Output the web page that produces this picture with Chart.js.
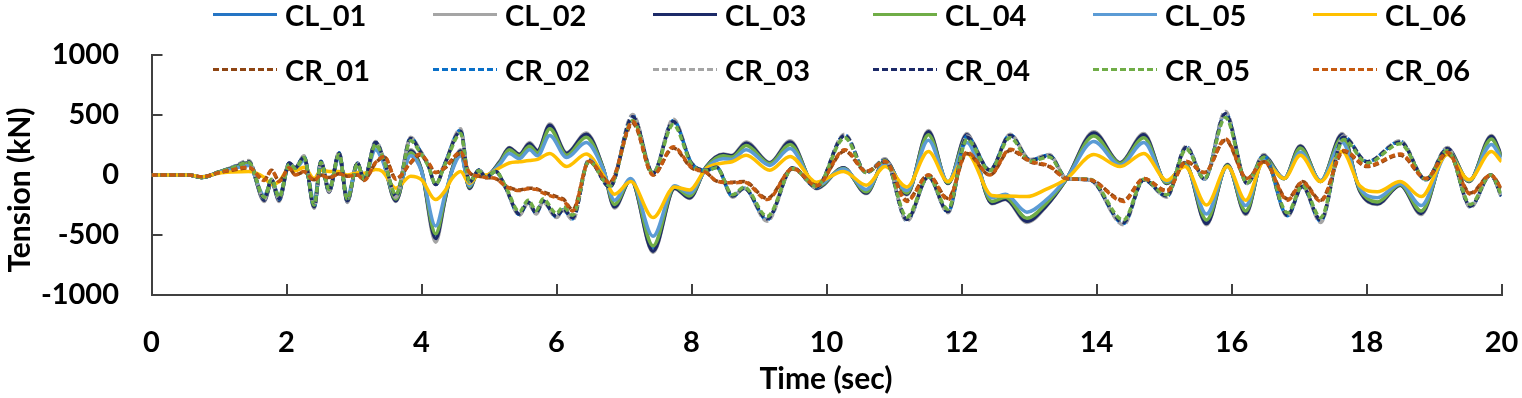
<!DOCTYPE html>
<html>
<head>
<meta charset="utf-8">
<title>Tension time history</title>
<script src="https://cdn.jsdelivr.net/npm/chart.js@4.4.1/dist/chart.umd.min.js"></script>
<style>
  html, body { margin: 0; padding: 0; background: #fff; }
  #wrap { position: relative; width: 1522px; height: 398px; }
</style>
</head>
<body>
<div id="wrap"><canvas id="chart" width="1522" height="398"></canvas></div>
<script>
// time stamps (sec) of the CL and CR records
const timeCL = [0, 0.55, 0.75, 1.0, 1.2, 1.44, 1.67, 1.78, 1.89, 2.04, 2.13, 2.26, 2.41, 2.51, 2.63, 2.78, 2.9, 3.05, 3.15, 3.32,
  3.42, 3.62, 3.84, 4.0, 4.21, 4.35, 4.45, 4.58, 4.71, 4.85, 4.95, 5.16, 5.3, 5.45, 5.6, 5.72, 5.9, 6.15, 6.44, 6.69,
  6.86, 7.1, 7.43, 7.75, 7.97, 8.22, 8.47, 8.6, 8.81, 9.16, 9.46, 9.85, 10.25, 10.59, 10.87, 11.19, 11.51, 11.8, 12.08, 12.45,
  12.65, 12.97, 13.25, 13.56, 13.96, 14.35, 14.7, 15.04, 15.31, 15.63, 15.94, 16.21, 16.48, 16.78, 17.02, 17.32, 17.64, 17.9, 18.16, 18.5,
  18.81, 19.2, 19.52, 19.85, 20.0];
const timeCR = [0, 0.55, 0.75, 1.0, 1.2, 1.44, 1.67, 1.78, 1.89, 2.04, 2.13, 2.26, 2.41, 2.51, 2.63, 2.78, 2.9, 3.05, 3.15, 3.32,
  3.45, 3.62, 3.84, 3.97, 4.1, 4.21, 4.35, 4.58, 4.71, 4.85, 4.95, 5.1, 5.25, 5.45, 5.58, 5.7, 5.8, 6.0, 6.1, 6.24,
  6.48, 6.79, 7.13, 7.43, 7.73, 8.0, 8.22, 8.37, 8.61, 8.78, 9.12, 9.5, 9.85, 10.27, 10.59, 10.87, 11.19, 11.51, 11.8, 12.08,
  12.42, 12.72, 13.02, 13.3, 13.56, 13.9, 14.4, 14.7, 15.04, 15.33, 15.6, 15.91, 16.23, 16.48, 16.83, 17.05, 17.32, 17.66, 18.01, 18.5,
  18.88, 19.2, 19.54, 19.84, 20.0];

// tension (kN)
const cl01 = [0, 0, -20, 25, 55, 95, -200, -55, -200, 90, 55, 145, -250, 105, -135, 170, -210, 90, -40, 250,
  145, -205, 190, 40, -500, -190, 40, 190, -105, 40, -10, 105, 215, 160, 245, 190, 395, 170, 325, 55,
  -250, -40, -605, -105, -180, 65, 160, 150, 250, 95, 260, -105, 55, -145, 115, -150, 340, -65, 320, -225,
  -190, -365, -245, -30, 335, 95, 320, -65, 95, -385, 80, -305, 145, -30, 230, -50, 320, -125, -230, -80,
  -305, 210, -50, 305, 150];
const cl02 = [0, 0, -20, 25, 65, 105, -220, -60, -220, 100, 60, 155, -275, 115, -145, 185, -230, 100, -40, 275,
  155, -220, 210, 40, -560, -205, 40, 210, -115, 40, -10, 115, 230, 175, 270, 205, 425, 185, 350, 60,
  -275, -40, -645, -115, -195, 70, 175, 165, 275, 105, 285, -115, 60, -155, 125, -165, 370, -70, 345, -240,
  -205, -395, -265, -30, 360, 105, 345, -70, 105, -415, 90, -330, 160, -30, 245, -55, 345, -135, -245, -85,
  -330, 225, -55, 330, 165];
const cl03 = [0, 0, -20, 25, 60, 100, -210, -60, -210, 95, 60, 150, -265, 110, -140, 180, -220, 95, -40, 265,
  150, -215, 200, 40, -530, -200, 40, 200, -110, 40, -10, 110, 225, 170, 260, 200, 415, 180, 340, 60,
  -265, -40, -635, -110, -190, 70, 170, 160, 265, 100, 275, -110, 60, -150, 120, -160, 360, -70, 335, -235,
  -200, -385, -260, -30, 350, 100, 335, -70, 100, -405, 85, -320, 155, -30, 240, -55, 335, -130, -240, -85,
  -320, 220, -55, 320, 160];
const cl04 = [0, 0, -20, 25, 55, 95, -195, -55, -195, 90, 55, 140, -245, 100, -130, 165, -205, 90, -35, 245,
  140, -200, 185, 35, -490, -185, 35, 185, -100, 35, -10, 100, 210, 160, 240, 185, 385, 165, 315, 55,
  -245, -35, -590, -100, -175, 65, 160, 150, 245, 95, 255, -100, 55, -140, 110, -150, 335, -65, 310, -220,
  -185, -360, -240, -30, 325, 95, 310, -65, 95, -375, 80, -300, 145, -30, 225, -50, 310, -120, -225, -80,
  -300, 205, -50, 300, 150];
const cl05 = [0, 0, -15, 20, 50, 80, -170, -50, -170, 75, 50, 120, -210, 90, -110, 145, -175, 75, -30, 210,
  120, -170, 160, 30, -425, -160, 30, 160, -90, 30, -10, 90, 180, 135, 210, 160, 330, 145, 270, 50,
  -210, -30, -510, -90, -150, 55, 135, 130, 210, 80, 220, -90, 50, -120, 95, -130, 290, -55, 270, -190,
  -160, -310, -210, -25, 280, 80, 270, -55, 80, -325, 70, -255, 125, -25, 190, -45, 270, -105, -190, -70,
  -255, 175, -45, 255, 130];
const cl06 = [0, 0, -15, 15, 25, 30, -20, -80, -55, 55, 35, 65, -30, 40, 30, 30, 0, 20, 15, 45,
  30, -110, -10, -40, -205, -130, -30, 30, -70, 0, 0, 60, 100, 110, 120, 130, 180, 70, 175, 0,
  -160, -55, -355, -100, -125, 55, 100, 110, 165, 40, 155, -60, 30, -85, 70, -100, 195, -55, 180, -170,
  -175, -180, -120, -30, 170, 70, 180, -45, 70, -250, 70, -210, 110, -30, 165, -55, 195, -90, -140, -55,
  -180, 170, -40, 195, 110];
const cr01 = [0, 0, -15, 20, 40, 60, -40, 40, -50, 55, 0, 25, -40, 0, -20, 10, -10, 0, -40, 100,
  150, -30, 100, 165, 100, 20, 60, 180, 20, -10, -20, -30, -90, -125, -110, -115, -140, -180, -200, -290,
  110, -60, 430, 0, 225, 60, 20, -50, -60, -55, -195, 50, -85, 200, 30, 110, -210, 0, -195, 180,
  0, 205, 110, 70, -30, -40, -210, -30, -130, 110, 20, 290, -30, 110, -200, -55, -210, 195, 70, 165,
  -30, 180, -150, 0, -110];
const cr02 = [0, 0, -20, 25, 65, 115, -200, -40, -200, 100, 60, 155, -270, 115, -130, 185, -220, 100, -40, 275,
  120, -180, 310, 210, 80, -80, 100, 375, -60, 40, -20, 30, -110, -330, -230, -320, -220, -350, -290, -365,
  125, -100, 495, 15, 455, 100, 40, 65, -180, -110, -375, 60, -105, 335, 20, 130, -380, -15, -310, 320,
  40, 335, 125, 165, -30, -40, -405, -40, -180, 235, -35, 520, -70, 165, -340, -95, -385, 320, 110, 280,
  -40, 225, -265, 0, -180];
const cr03 = [0, 0, -20, 25, 65, 120, -205, -40, -205, 100, 60, 160, -275, 115, -135, 190, -225, 100, -40, 280,
  120, -185, 315, 215, 80, -80, 100, 385, -60, 40, -20, 30, -115, -335, -235, -325, -225, -355, -295, -375,
  130, -100, 505, 15, 465, 100, 40, 65, -185, -110, -385, 60, -105, 340, 20, 135, -385, -15, -315, 325,
  40, 340, 130, 170, -30, -40, -415, -40, -185, 240, -35, 530, -70, 170, -345, -95, -395, 325, 110, 285,
  -40, 230, -270, 0, -185];
const cr04 = [0, 0, -20, 25, 60, 110, -195, -40, -195, 100, 60, 150, -265, 110, -125, 180, -215, 100, -40, 270,
  120, -175, 305, 205, 80, -80, 100, 365, -60, 40, -20, 30, -110, -325, -225, -315, -215, -345, -285, -355,
  120, -100, 485, 15, 445, 100, 40, 65, -175, -110, -365, 60, -100, 330, 20, 125, -370, -15, -305, 315,
  40, 330, 120, 160, -30, -40, -395, -40, -175, 230, -35, 510, -70, 160, -335, -95, -375, 315, 110, 275,
  -40, 220, -260, 0, -175];
const cr05 = [0, 0, -20, 25, 60, 105, -185, -35, -185, 90, 55, 145, -250, 105, -120, 170, -200, 90, -35, 255,
  110, -165, 285, 195, 75, -75, 90, 345, -55, 35, -20, 30, -100, -305, -210, -295, -200, -320, -265, -335,
  115, -90, 455, 15, 420, 90, 35, 60, -165, -100, -345, 55, -95, 310, 20, 120, -350, -15, -285, 295,
  35, 310, 115, 150, -30, -35, -375, -35, -165, 215, -30, 480, -65, 150, -315, -85, -355, 295, 100, 260,
  -35, 205, -245, 0, -165];
const cr06 = [0, 0, -15, 20, 45, 65, -45, 40, -55, 60, 0, 30, -45, 0, -25, 10, -10, 0, -45, 105,
  155, -35, 105, 175, 105, 20, 65, 190, 20, -10, -20, -30, -95, -130, -115, -120, -150, -190, -210, -300,
  115, -65, 445, 0, 235, 65, 20, -50, -65, -60, -205, 55, -90, 210, 30, 115, -220, 0, -205, 190,
  0, 215, 115, 75, -30, -40, -220, -30, -135, 115, 20, 300, -30, 115, -210, -60, -220, 205, 75, 175,
  -30, 190, -160, 0, -115];

const seriesNames = ['CL_01', 'CL_02', 'CL_03', 'CL_04', 'CL_05', 'CL_06',
  'CR_01', 'CR_02', 'CR_03', 'CR_04', 'CR_05', 'CR_06'];
const seriesValues = [cl01, cl02, cl03, cl04, cl05, cl06, cr01, cr02, cr03, cr04, cr05, cr06];
const seriesColors = ['#2575c4', '#a5a5a5', '#1c2a68', '#70ad47', '#5b9bd5', '#ffc000',
  '#8e4513', '#0a70c8', '#a5a5a5', '#1c2a68', '#70ad47', '#c55a11'];

const FONT = 'Lato, "Open Sans", sans-serif';

// legend (2 rows x 6) and axis titles
const overlay = {
  id: 'overlay',
  afterDraw(chart) {
    const ctx = chart.ctx;
    ctx.save();
    ctx.fillStyle = '#000';
    ctx.font = `bold 30px ${FONT}`;
    ctx.textAlign = 'center';
    ctx.textBaseline = 'middle';
    ctx.fillText('Time (sec)', 826, 379);
    ctx.save();
    ctx.translate(20, 190);
    ctx.rotate(-Math.PI / 2);
    ctx.fillText('Tension (kN)', 0, 0);
    ctx.restore();

    ctx.font = `bold 29px ${FONT}`;
    ctx.textAlign = 'left';
    ctx.textBaseline = 'alphabetic';
    chart.data.datasets.forEach((ds, i) => {
      const x0 = 213 + (i % 6) * 220;
      const y0 = i < 6 ? 14.5 : 69.5;
      ctx.strokeStyle = ds.borderColor;
      ctx.lineWidth = 3;
      ctx.setLineDash(ds.borderDash || []);
      ctx.beginPath();
      ctx.moveTo(x0, y0);
      ctx.lineTo(x0 + 64, y0);
      ctx.stroke();
      ctx.setLineDash([]);
      ctx.fillText(ds.label, x0 + 72, y0 + 11.5);
    });
    ctx.restore();
  }
};

const datasets = seriesNames.map((name, i) => {
  const times = i < 6 ? timeCL : timeCR;
  return {
    label: name,
    data: times.map((t, k) => ({ x: t, y: seriesValues[i][k] })),
    borderColor: seriesColors[i],
    backgroundColor: seriesColors[i],
    borderWidth: 3.5,
    borderDash: i < 6 ? [] : [6, 3],
    pointRadius: 0,
    fill: false,
    cubicInterpolationMode: 'monotone',
    order: 11 - i,   // later series on top, as in the original
  };
});

const axisColor = '#404040';
const tickFont = { family: FONT, size: 29, weight: 'bold' };

new Chart(document.getElementById('chart'), {
  type: 'line',
  data: { datasets },
  options: {
    responsive: false,
    animation: false,
    devicePixelRatio: 1,
    layout: { padding: { top: 55, right: 20.5, left: 0, bottom: 0 } },
    plugins: { legend: { display: false }, tooltip: { enabled: false } },
    scales: {
      x: {
        type: 'linear',
        min: 0,
        max: 20,
        ticks: { stepSize: 2, font: tickFont, color: '#000', padding: 41, maxRotation: 0, callback: v => String(v) },
        grid: { drawOnChartArea: false, drawTicks: true, tickLength: -11, color: axisColor, lineWidth: 2 },
        border: { display: true, color: axisColor, width: 2 },
        afterFit: s => { s.height = 103; s.paddingLeft = 0; s.paddingRight = 0; },
      },
      y: {
        min: -1000,
        max: 1000,
        ticks: { stepSize: 500, font: tickFont, color: '#000', padding: 43.5, callback: v => String(v) },
        grid: { drawOnChartArea: false, drawTicks: true, tickLength: -11, color: axisColor, lineWidth: 2 },
        border: { display: true, color: axisColor, width: 2 },
        afterFit: s => { s.width = 151.5; s.paddingTop = 0; s.paddingBottom = 0; },
      },
    },
  },
  plugins: [overlay],
});
</script>
</body>
</html>
